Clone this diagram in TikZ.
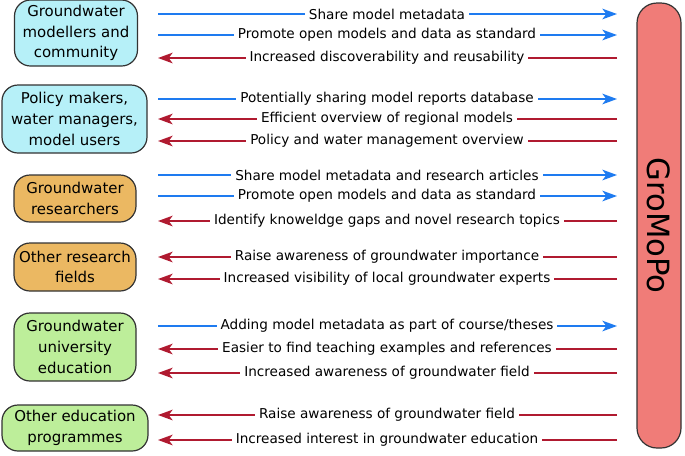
\documentclass[tikz,border=0pt]{standalone}
\usepackage{fontspec}
\setmainfont{DejaVu Sans}
\usetikzlibrary{arrows.meta}
\definecolor{bl}{HTML}{1E7BF0}
\definecolor{rd}{HTML}{B01A30}
\definecolor{cy}{HTML}{B6F0F8}
\definecolor{og}{HTML}{EBB862}
\definecolor{gr}{HTML}{BDEE9A}
\definecolor{gm}{HTML}{F07C78}
\begin{document}
\begin{tikzpicture}[x=0.75pt,y=-0.75pt,
  grp/.style={draw=black!80,line width=0.9pt,rounded corners=12pt,align=center,font=\fontsize{11.2}{15.5}\selectfont,inner sep=1pt},
  lbl/.style={fill=white,inner sep=3pt,font=\fontsize{10.2}{11}\selectfont},
  ra/.style={draw=bl,line width=1pt,-{Stealth[length=11pt,width=8pt,inset=3pt]}},
  la/.style={draw=rd,line width=1pt,-{Stealth[length=11pt,width=8pt,inset=3pt]}}]
\useasboundingbox (0,0) rectangle (685,455);
\node[grp,fill=cy,minimum width=123*0.75pt,minimum height=66*0.75pt] (g1) at (76,33) {Groundwater\\modellers and\\community};
\node[grp,fill=cy,minimum width=145*0.75pt,minimum height=68*0.75pt] (g2) at (74.5,119) {Policy makers,\\water managers,\\model users};
\node[grp,fill=og,minimum width=122*0.75pt,minimum height=47*0.75pt] (g3) at (75,198.5) {Groundwater\\researchers};
\node[grp,fill=og,minimum width=122*0.75pt,minimum height=48*0.75pt] (g4) at (75,267) {Other research\\fields};
\node[grp,fill=gr,minimum width=122*0.75pt,minimum height=68*0.75pt] (g5) at (75,347) {Groundwater\\university\\education};
\node[grp,fill=gr,minimum width=146*0.75pt,minimum height=46*0.75pt] (g6) at (75,428) {Other education\\programmes};
\node[draw=black!80,line width=0.9pt,fill=gm,rounded corners=15pt,minimum width=445*0.75pt,minimum height=44*0.75pt,rotate=-90,font=\fontsize{23}{26}\selectfont] (gro) at (659,225.5) {GroMoPo};
\foreach \y/\d/\t [count=\i] in {
 14/r/{Share model metadata},
 35/r/{Promote open models and data as standard},
 58/l/{Increased discoverability and reusability},
 99/r/{Potentially sharing model reports database},
 119/l/{Efficient overview of regional models},
 141/l/{Policy and water management overview},
 175/r/{Share model metadata and research articles},
 196/r/{Promote open models and data as standard},
 221/l/{Identify knoweldge gaps and novel research topics},
 257/l/{Raise awareness of groundwater importance},
 279/l/{Increased visibility of local groundwater experts},
 326/r/{Adding model metadata as part of course{/}theses},
 349/l/{Easier to find teaching examples and references},
 373/l/{Increased awareness of groundwater field},
 415/l/{Raise awareness of groundwater field},
 440/l/{Increased interest in groundwater education}}{
  \coordinate (a\i) at (158,\y);
  \coordinate (b\i) at (617,\y);
  \if r\d \draw[ra] (a\i) -- (b\i); \else \draw[la] (b\i) -- (a\i); \fi
  \node[lbl] (t\i) at (387,\y) {\t};
}
\end{tikzpicture}
\end{document}
